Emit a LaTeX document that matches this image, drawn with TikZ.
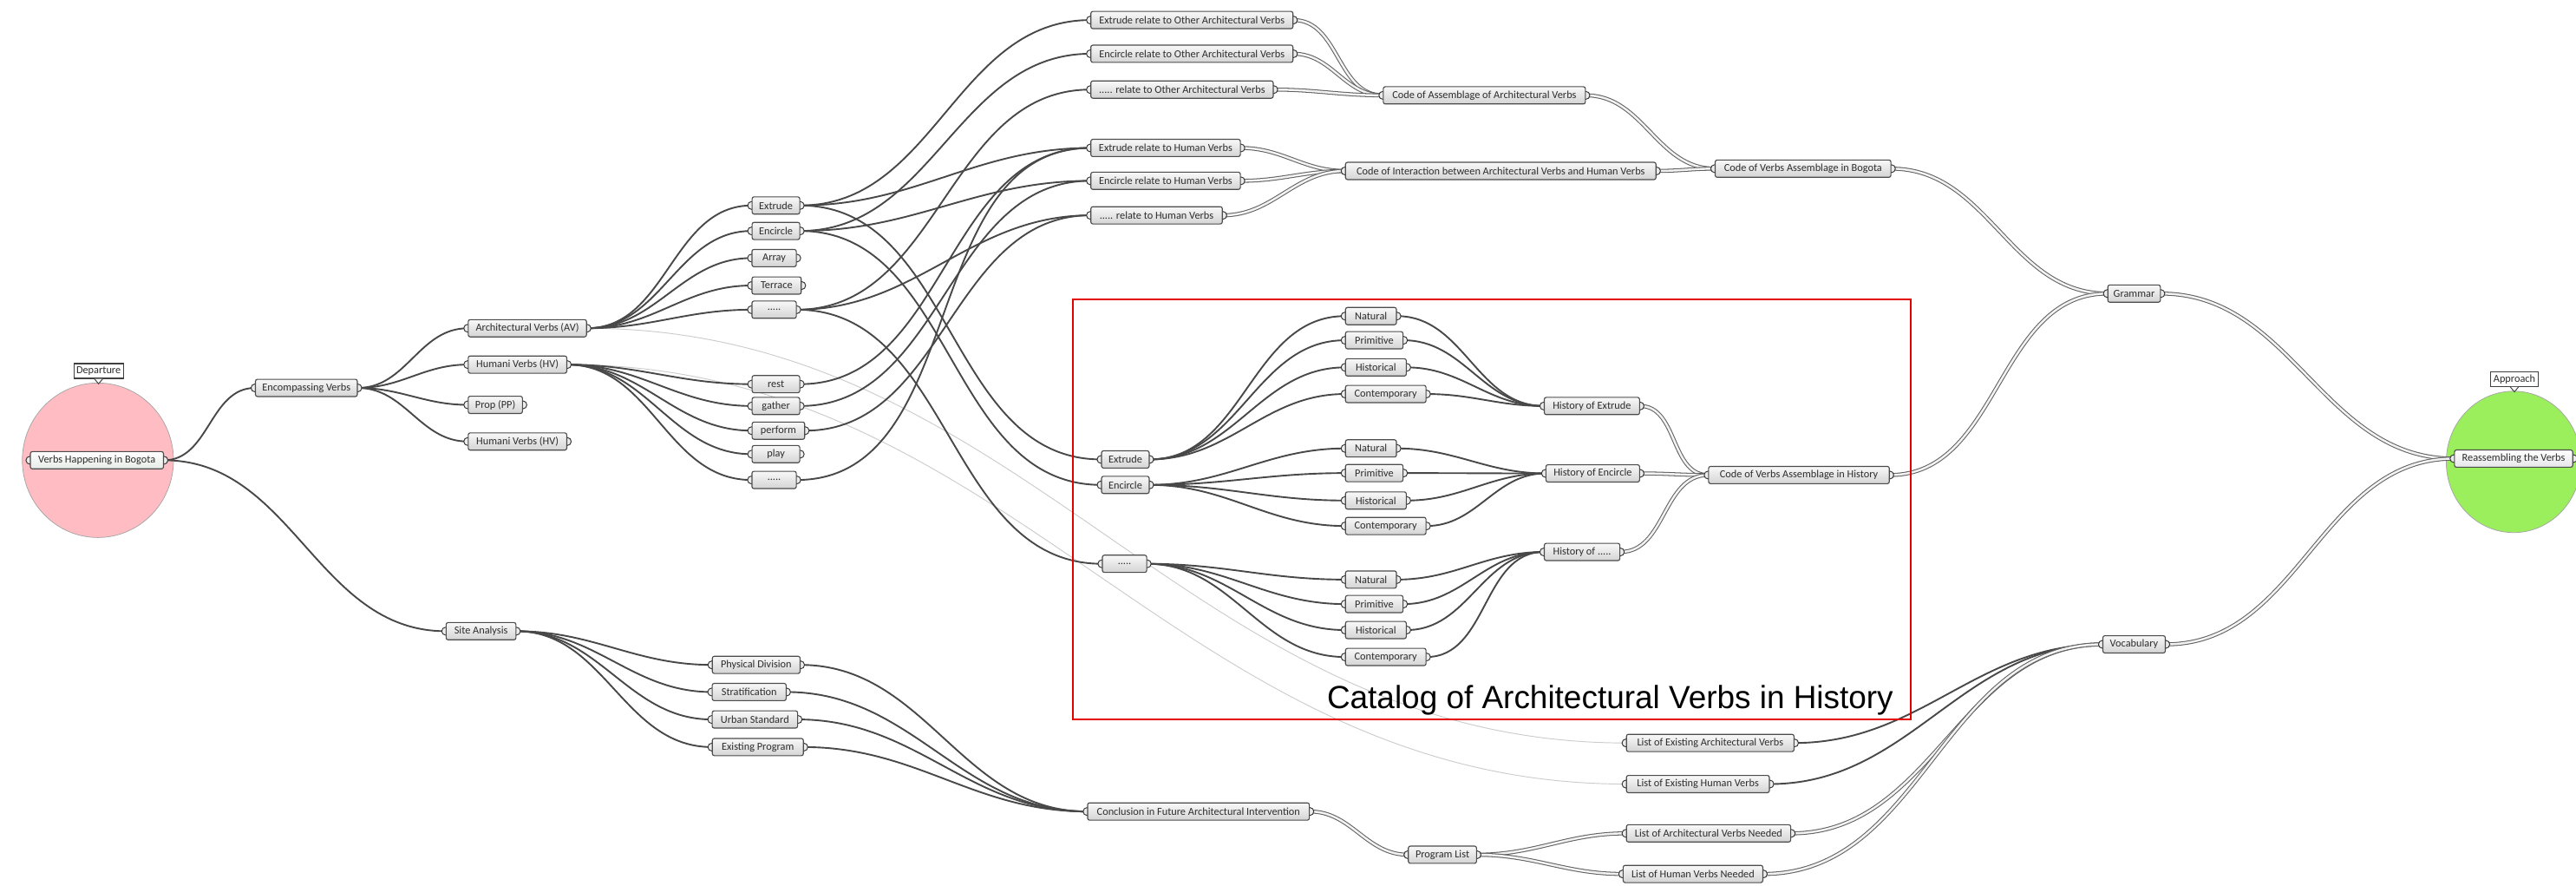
\documentclass[tikz,border=0pt]{standalone}
\usepackage{fontspec}
\setmainfont{Carlito}
\newfontfamily\catfont{Liberation Sans}
\pgfdeclarelayer{bg}
\pgfdeclarelayer{ports}
\pgfsetlayers{bg,ports,main}
\definecolor{pinkc}{RGB}{255,188,194}
\definecolor{greenc}{RGB}{155,238,92}
\definecolor{wirec}{RGB}{72,72,72}
\definecolor{txtc}{RGB}{45,45,45}
\tikzset{
 gbox/.style={draw=black!70, line width=0.6pt, rounded corners=1.2pt, top color=gray!5, bottom color=gray!34, minimum height=10.5pt, inner sep=0pt, font=\fontsize{6.5}{7}\selectfont, text=txtc},
 wire/.style={draw=wirec, line width=1pt},
 dwire/.style={draw=black!62, double=gray!10, double distance=1.3pt, line width=0.55pt},
 fwire/.style={draw=gray!40, line width=0.5pt},
 portc/.style={draw=black!80, fill=gray!15, line width=0.5pt},
 tagbox/.style={draw=black!75, fill=white, line width=0.6pt, inner sep=1.5pt, font=\fontsize{6.5}{7}\selectfont, text=txtc, minimum height=9pt},
}
\begin{document}
\begin{tikzpicture}[x=1pt,y=-1pt]
\useasboundingbox (0,0) rectangle (1568,539);
% big circles
\begin{pgfonlayer}{bg}
\draw[fill=pinkc, draw=gray!70, line width=0.4pt] (59.6,280) ellipse [x radius=46, y radius=47];
\draw[fill=greenc, draw=gray!70, line width=0.4pt] (1530,281) ellipse [x radius=41, y radius=43];
\end{pgfonlayer}
% red frame and title
\draw[red!90!black, line width=1.2pt] (653,182) rectangle (1163,437.7);
\node[anchor=base east, inner sep=0pt, font=\catfont\fontsize{19.5}{20}\selectfont] (cat) at (1152.6,431) {Catalog of Architectural Verbs in History};
% tags
\node[tagbox, minimum width=30pt] (dep) at (60,225.7) {Departure};
\node[tagbox, minimum width=29pt] (appr) at (1530.5,230.6) {Approach};
\draw[fill=white, draw=black!75, line width=0.5pt] ([xshift=-2.5pt]dep.south) -- ([yshift=-3pt]dep.south) -- ([xshift=2.5pt]dep.south);
\draw[fill=white, draw=black!75, line width=0.5pt] ([xshift=-2.5pt]appr.south) -- ([yshift=-3pt]appr.south) -- ([xshift=2.5pt]appr.south);
% left part
\node[gbox, minimum width=81pt, top color=white, bottom color=green!10!gray!18] (vhb) at (59,280) {Verbs Happening in Bogota};
\node[gbox, minimum width=62pt] (enc) at (186.5,236) {Encompassing Verbs};
\node[gbox, minimum width=72pt] (av) at (321,199.7) {Architectural Verbs (AV)};
\node[gbox, minimum width=60pt] (hv) at (315,221.8) {Humani Verbs (HV)};
\node[gbox, minimum width=33pt] (pp) at (301.5,246.3) {Prop (PP)};
\node[gbox, minimum width=60pt] (hv2) at (315,268.6) {Humani Verbs (HV)};
\node[gbox, minimum width=42.5pt] (site) at (292.8,384) {Site Analysis};
% column 1
\node[gbox, minimum width=29pt] (ex) at (472.3,125) {Extrude};
\node[gbox, minimum width=29pt] (ec) at (472.3,140.5) {Encircle};
\node[gbox, minimum width=27pt] (ar) at (471.2,157) {Array};
\node[gbox, minimum width=30pt] (te) at (472.7,173.7) {Terrace};
\node[gbox, minimum width=27pt] (dd1) at (471.2,188.4) {.....};
\node[gbox, minimum width=29pt] (rest) at (472.3,233.7) {rest};
\node[gbox, minimum width=29pt] (gather) at (472.3,247) {gather};
\node[gbox, minimum width=32pt] (perform) at (473.8,262) {perform};
\node[gbox, minimum width=29pt] (play) at (472.3,276.3) {play};
\node[gbox, minimum width=27pt] (dd2) at (471.2,292) {.....};
% bottom
\node[gbox, minimum width=53.4pt] (pd) at (460.3,404.5) {Physical Division};
\node[gbox, minimum width=45pt] (st) at (456,421) {Stratification};
\node[gbox, minimum width=52pt] (us) at (459.5,437.7) {Urban Standard};
\node[gbox, minimum width=55.4pt] (ep) at (461.3,454.5) {Existing Program};
\node[gbox, minimum width=135pt] (conc) at (729.5,493.7) {Conclusion in Future Architectural Intervention};
\node[gbox, minimum width=41.5pt] (pl) at (878,520) {Program List};
% top
\node[gbox, minimum width=123pt] (exo) at (725.5,12.2) {Extrude relate to Other Architectural Verbs};
\node[gbox, minimum width=123pt] (eco) at (725.5,32.7) {Encircle relate to Other Architectural Verbs};
\node[gbox, minimum width=111pt] (ddo) at (719.5,54.5) {..... relate to Other Architectural Verbs};
\node[gbox, minimum width=91pt] (exh) at (709.5,90) {Extrude relate to Human Verbs};
\node[gbox, minimum width=91pt] (ech) at (709.5,110) {Encircle relate to Human Verbs};
\node[gbox, minimum width=80pt] (ddh) at (704,131) {..... relate to Human Verbs};
\node[gbox, minimum width=123pt] (caav) at (903.5,58) {Code of Assemblage of Architectural Verbs};
\node[gbox, minimum width=189pt] (ci) at (913.5,104) {Code of Interaction between Architectural Verbs and Human Verbs};
\node[gbox, minimum width=107pt] (cb) at (1097.5,102.6) {Code of Verbs Assemblage in Bogota};
\node[gbox, minimum width=32pt] (gr) at (1299,178.6) {Grammar};
\node[gbox, minimum width=72pt, top color=white, bottom color=blue!8!gray!18] (reas) at (1530,279) {Reassembling the Verbs};
\node[gbox, minimum width=38pt] (voc) at (1299,392) {Vocabulary};
% catalog
\node[gbox, minimum width=29pt] (iex) at (685,279.5) {Extrude};
\node[gbox, minimum width=29pt] (iec) at (685,295) {Encircle};
\node[gbox, minimum width=27pt] (idd) at (684.5,343) {.....};
\node[gbox, minimum width=31pt] (n1) at (834.5,192.3) {Natural};
\node[gbox, minimum width=35pt] (p1) at (836.5,207) {Primitive};
\node[gbox, minimum width=37pt] (h1) at (837.5,223.5) {Historical};
\node[gbox, minimum width=49pt] (c1) at (843.5,239.7) {Contemporary};
\node[gbox, minimum width=58pt] (he) at (969,247) {History of Extrude};
\node[gbox, minimum width=31pt] (n2) at (834.5,272.8) {Natural};
\node[gbox, minimum width=35pt] (p2) at (836.5,287.8) {Primitive};
\node[gbox, minimum width=37pt] (h2) at (837.5,304.5) {Historical};
\node[gbox, minimum width=49pt] (c2) at (843.5,320) {Contemporary};
\node[gbox, minimum width=57pt] (hc) at (969.5,288) {History of Encircle};
\node[gbox, minimum width=31pt] (n3) at (834.5,352.6) {Natural};
\node[gbox, minimum width=35pt] (p3) at (836.5,367.5) {Primitive};
\node[gbox, minimum width=37pt] (h3) at (837.5,383.3) {Historical};
\node[gbox, minimum width=49pt] (c3) at (843.5,399.7) {Contemporary};
\node[gbox, minimum width=46pt] (hd) at (963,335.8) {History of .....};
\node[gbox, minimum width=110pt] (ch) at (1095,289) {Code of Verbs Assemblage in History};
% lists
\node[gbox, minimum width=102pt] (lea) at (1041,452) {List of Existing Architectural Verbs};
\node[gbox, minimum width=87pt] (leh) at (1033.5,477) {List of Existing Human Verbs};
\node[gbox, minimum width=100pt] (lan) at (1040,507) {List of Architectural Verbs Needed};
\node[gbox, minimum width=85pt] (lhn) at (1030.5,531.7) {List of Human Verbs Needed};
% ports
\begin{pgfonlayer}{ports}
\foreach \n in {vhb,enc,av,hv,pp,hv2,site,ex,ec,ar,te,dd1,rest,gather,perform,play,dd2,pd,st,us,ep,conc,pl,exo,eco,ddo,exh,ech,ddh,caav,ci,cb,gr,reas,voc,iex,iec,idd,n1,p1,h1,c1,he,n2,p2,h2,c2,hc,n3,p3,h3,c3,hd,ch,lea,leh,lan,lhn}{
  \draw[portc] (\n.west) circle[radius=2.4pt];
  \draw[portc] (\n.east) circle[radius=2.4pt];
}
\end{pgfonlayer}
% wires
\begin{pgfonlayer}{bg}
\foreach \a/\b in {av/lea,hv/leh}
  \draw[fwire] (\a.east) to[out=0,in=180] (\b.west);
\foreach \a/\b in {vhb/enc,vhb/site,enc/av,enc/hv,enc/pp,enc/hv2,
  av/ex,av/ec,av/ar,av/te,av/dd1,
  hv/rest,hv/gather,hv/perform,hv/play,hv/dd2,
  ex/exo,ec/eco,dd1/ddo,
  ex/exh,rest/exh,dd2/exh,ec/ech,gather/ech,dd1/ddh,perform/ddh,
  ex/iex,ec/iec,dd1/idd,
  iex/n1,iex/p1,iex/h1,iex/c1,iec/n2,iec/p2,iec/h2,iec/c2,idd/n3,idd/p3,idd/h3,idd/c3,
  n1/he,p1/he,h1/he,c1/he,n2/hc,p2/hc,h2/hc,c2/hc,n3/hd,p3/hd,h3/hd,c3/hd,
  site/pd,site/st,site/us,site/ep,pd/conc,st/conc,us/conc,ep/conc,
  lea/voc,leh/voc}
  \draw[wire] (\a.east) to[out=0,in=180] (\b.west);
\foreach \a/\b in {exo/caav,eco/caav,ddo/caav,exh/ci,ech/ci,ddh/ci,caav/cb,ci/cb,cb/gr,
  he/ch,hc/ch,hd/ch,ch/gr,gr/reas,voc/reas,conc/pl,pl/lan,pl/lhn,lan/voc,lhn/voc}
  \draw[dwire] (\a.east) to[out=0,in=180] (\b.west);
\end{pgfonlayer}
\end{tikzpicture}
\end{document}
